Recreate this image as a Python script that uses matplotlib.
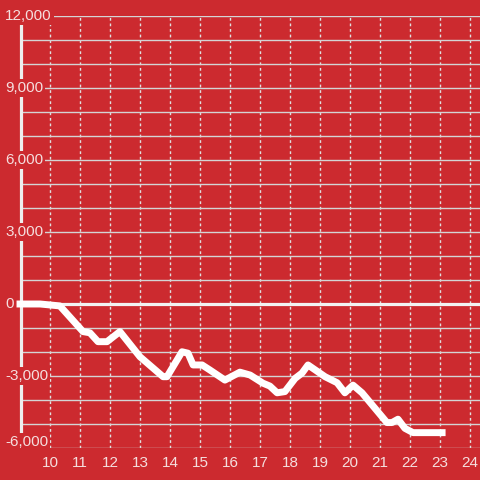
import matplotlib
matplotlib.use('Agg')
import matplotlib.pyplot as plt
import matplotlib.transforms as mtransforms

plt.rcParams['font.family'] = ['Liberation Sans', 'DejaVu Sans']

# data
xs = [9.0, 9.67, 10.33, 11.1, 11.33, 11.6, 11.9, 12.33, 13.0, 13.77, 13.9, 14.4, 14.6, 14.77,
      15.07, 15.33, 15.83, 16.33, 16.67, 17.1, 17.33, 17.57, 17.83, 18.17, 18.4, 18.6, 19.17,
      19.57, 19.83, 20.1, 20.4, 21.23, 21.4, 21.6, 21.83, 22.1, 23.07]
ys = [0, 0, -80, -1150, -1200, -1570, -1570, -1150, -2200, -3030, -3030, -1990, -2050, -2540,
      -2540, -2750, -3170, -2840, -2960, -3300, -3420, -3700, -3650, -3100, -2880, -2540, -3030,
      -3280, -3700, -3380, -3700, -4940, -4940, -4800, -5180, -5360, -5360]
x_ticks = list(range(10, 25))
y_labels = [12000, 9000, 6000, 3000, 0, -3000, -6000]

bg = '#cc2a2f'
txt = '#f5dede'

fig = plt.figure(figsize=(4.8, 4.8), dpi=100, facecolor=bg)
ax = fig.add_axes([20 / 480, 32 / 480, 460 / 480, 432 / 480])
ax.set_facecolor(bg)
for s in ax.spines.values():
    s.set_visible(False)

ax.set_xlim(9, 9 + 460 / 30)
ax.set_ylim(-6000, 12000)

ax.set_yticks(range(-6000, 12001, 1000))
ax.set_yticklabels([])
ax.set_xticks(x_ticks)
ax.set_xticklabels([str(t) for t in x_ticks], color=txt, fontsize=11)
ax.tick_params(length=0, pad=6)
ax.grid(axis='y', color='#d4d4d4', lw=1)
ax.grid(axis='x', color='#e0e0e0', lw=1, linestyle=(0, (2, 2)))
ax.set_axisbelow(True)

ax.axhline(0, color='#f2f2f2', lw=2.3, zorder=2)
ax.plot([9 + 1 / 30] * 2, [-6000, 11667], color='#eeeeee', lw=2.3, zorder=2, clip_on=False)

ax.plot(xs, ys, color='white', lw=5, solid_capstyle='projecting', solid_joinstyle='round',
        zorder=3, clip_on=False)

trans = mtransforms.blended_transform_factory(fig.transFigure, ax.transData)
for v in y_labels:
    yy = v + 250 if v == -6000 else v
    ax.text(5 / 480, yy, f'{v:,}', transform=trans, ha='left', va='center',
            color=txt, fontsize=11, zorder=4,
            bbox=dict(boxstyle='square,pad=0.15', fc=bg, ec='none'))

fig.savefig('out.png', dpi=100, facecolor=bg)
